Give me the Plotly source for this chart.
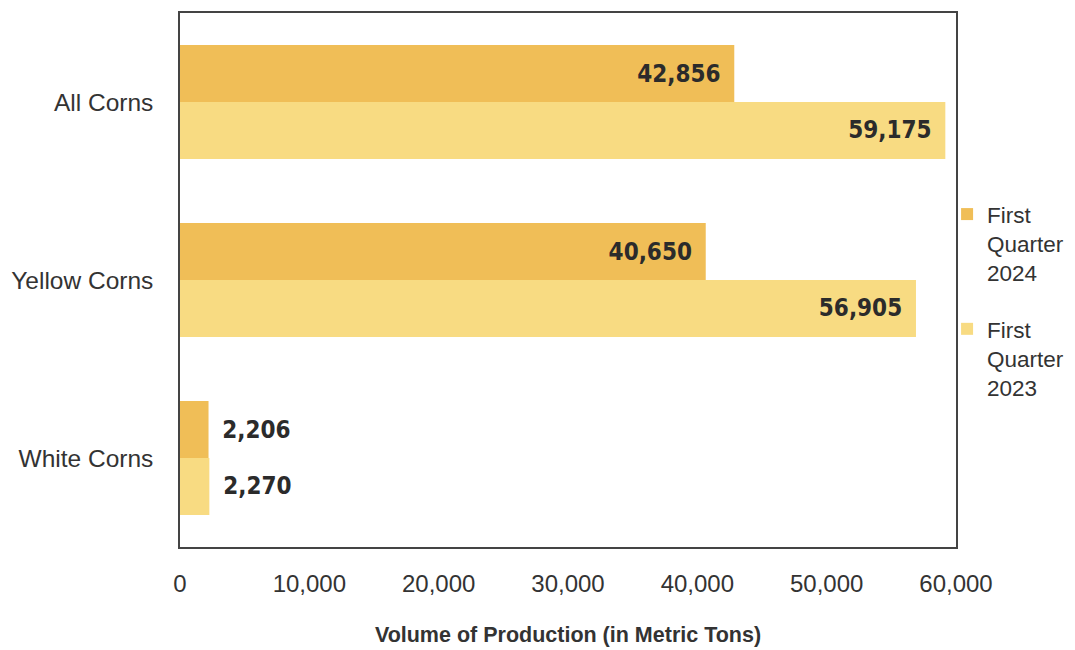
import plotly.graph_objects as go

categories = ["All Corns", "Yellow Corns", "White Corns"]
q1_2024 = [42856, 40650, 2206]
q1_2023 = [59175, 56905, 2270]
series_names = ["First<br>Quarter<br>2024", "First<br>Quarter<br>2023"]
x_ticks = [0, 10000, 20000, 30000, 40000, 50000, 60000]
x_ticklabels = ["0", "10,000", "20,000", "30,000", "40,000", "50,000", "60,000"]

colors = ["#F0BE57", "#F8DB82"]
label_font = dict(family="DejaVu Sans Condensed", size=24, color="#2b2b2b", weight="bold")


def make_labels(vals):
    pos, tmpl = [], []
    for v in vals:
        if v > 10000:
            pos.append("inside")
            tmpl.append("%{x:,.0f}\u2002")
        else:
            pos.append("outside")
            tmpl.append("\u2002%{x:,.0f}")
    return pos, tmpl


fig = go.Figure()
for name, vals, col, grp in zip(series_names, [q1_2024, q1_2023], colors, ["a", "b"]):
    pos, tmpl = make_labels(vals)
    fig.add_trace(go.Bar(
        y=categories, x=vals, name=name, orientation="h",
        marker=dict(color=col, line=dict(width=0)),
        textposition=pos, texttemplate=tmpl,
        insidetextanchor="end", constraintext="none",
        textfont=label_font, cliponaxis=False,
        legendgroup=grp,
    ))

fig.update_layout(
    width=1067, height=642,
    paper_bgcolor="white", plot_bgcolor="white",
    margin=dict(l=172, r=119, t=5, b=103, autoexpand=False),
    barmode="group", bargap=0.36, bargroupgap=0,
    font=dict(family="Liberation Sans, Arial, sans-serif", size=24, color="#333333"),
    legend=dict(
        x=0.9885, xanchor="left", y=0.663, yanchor="top",
        font=dict(size=22.5, color="#333333"),
        valign="top", tracegroupgap=24, bgcolor="rgba(0,0,0,0)",
        borderwidth=0,
    ),
    xaxis=dict(
        range=[0, 60000], tickvals=x_ticks, ticktext=x_ticklabels,
        showgrid=False, zeroline=False, automargin=False,
        showline=True, linecolor="#444444", linewidth=1.5, mirror=True,
        ticks="", ticklabelstandoff=14, tickfont=dict(size=24),
        title=dict(text="<b>Volume of Production (in Metric Tons)</b>",
                   font=dict(size=21.5, color="#333333"), standoff=31),
    ),
    yaxis=dict(
        autorange="reversed", showgrid=False, zeroline=False, automargin=False,
        showline=True, linecolor="#444444", linewidth=1.5, mirror=True,
        ticks="", ticklabelstandoff=20, tickfont=dict(size=24.5),
    ),
)

fig.write_html("out.html")
